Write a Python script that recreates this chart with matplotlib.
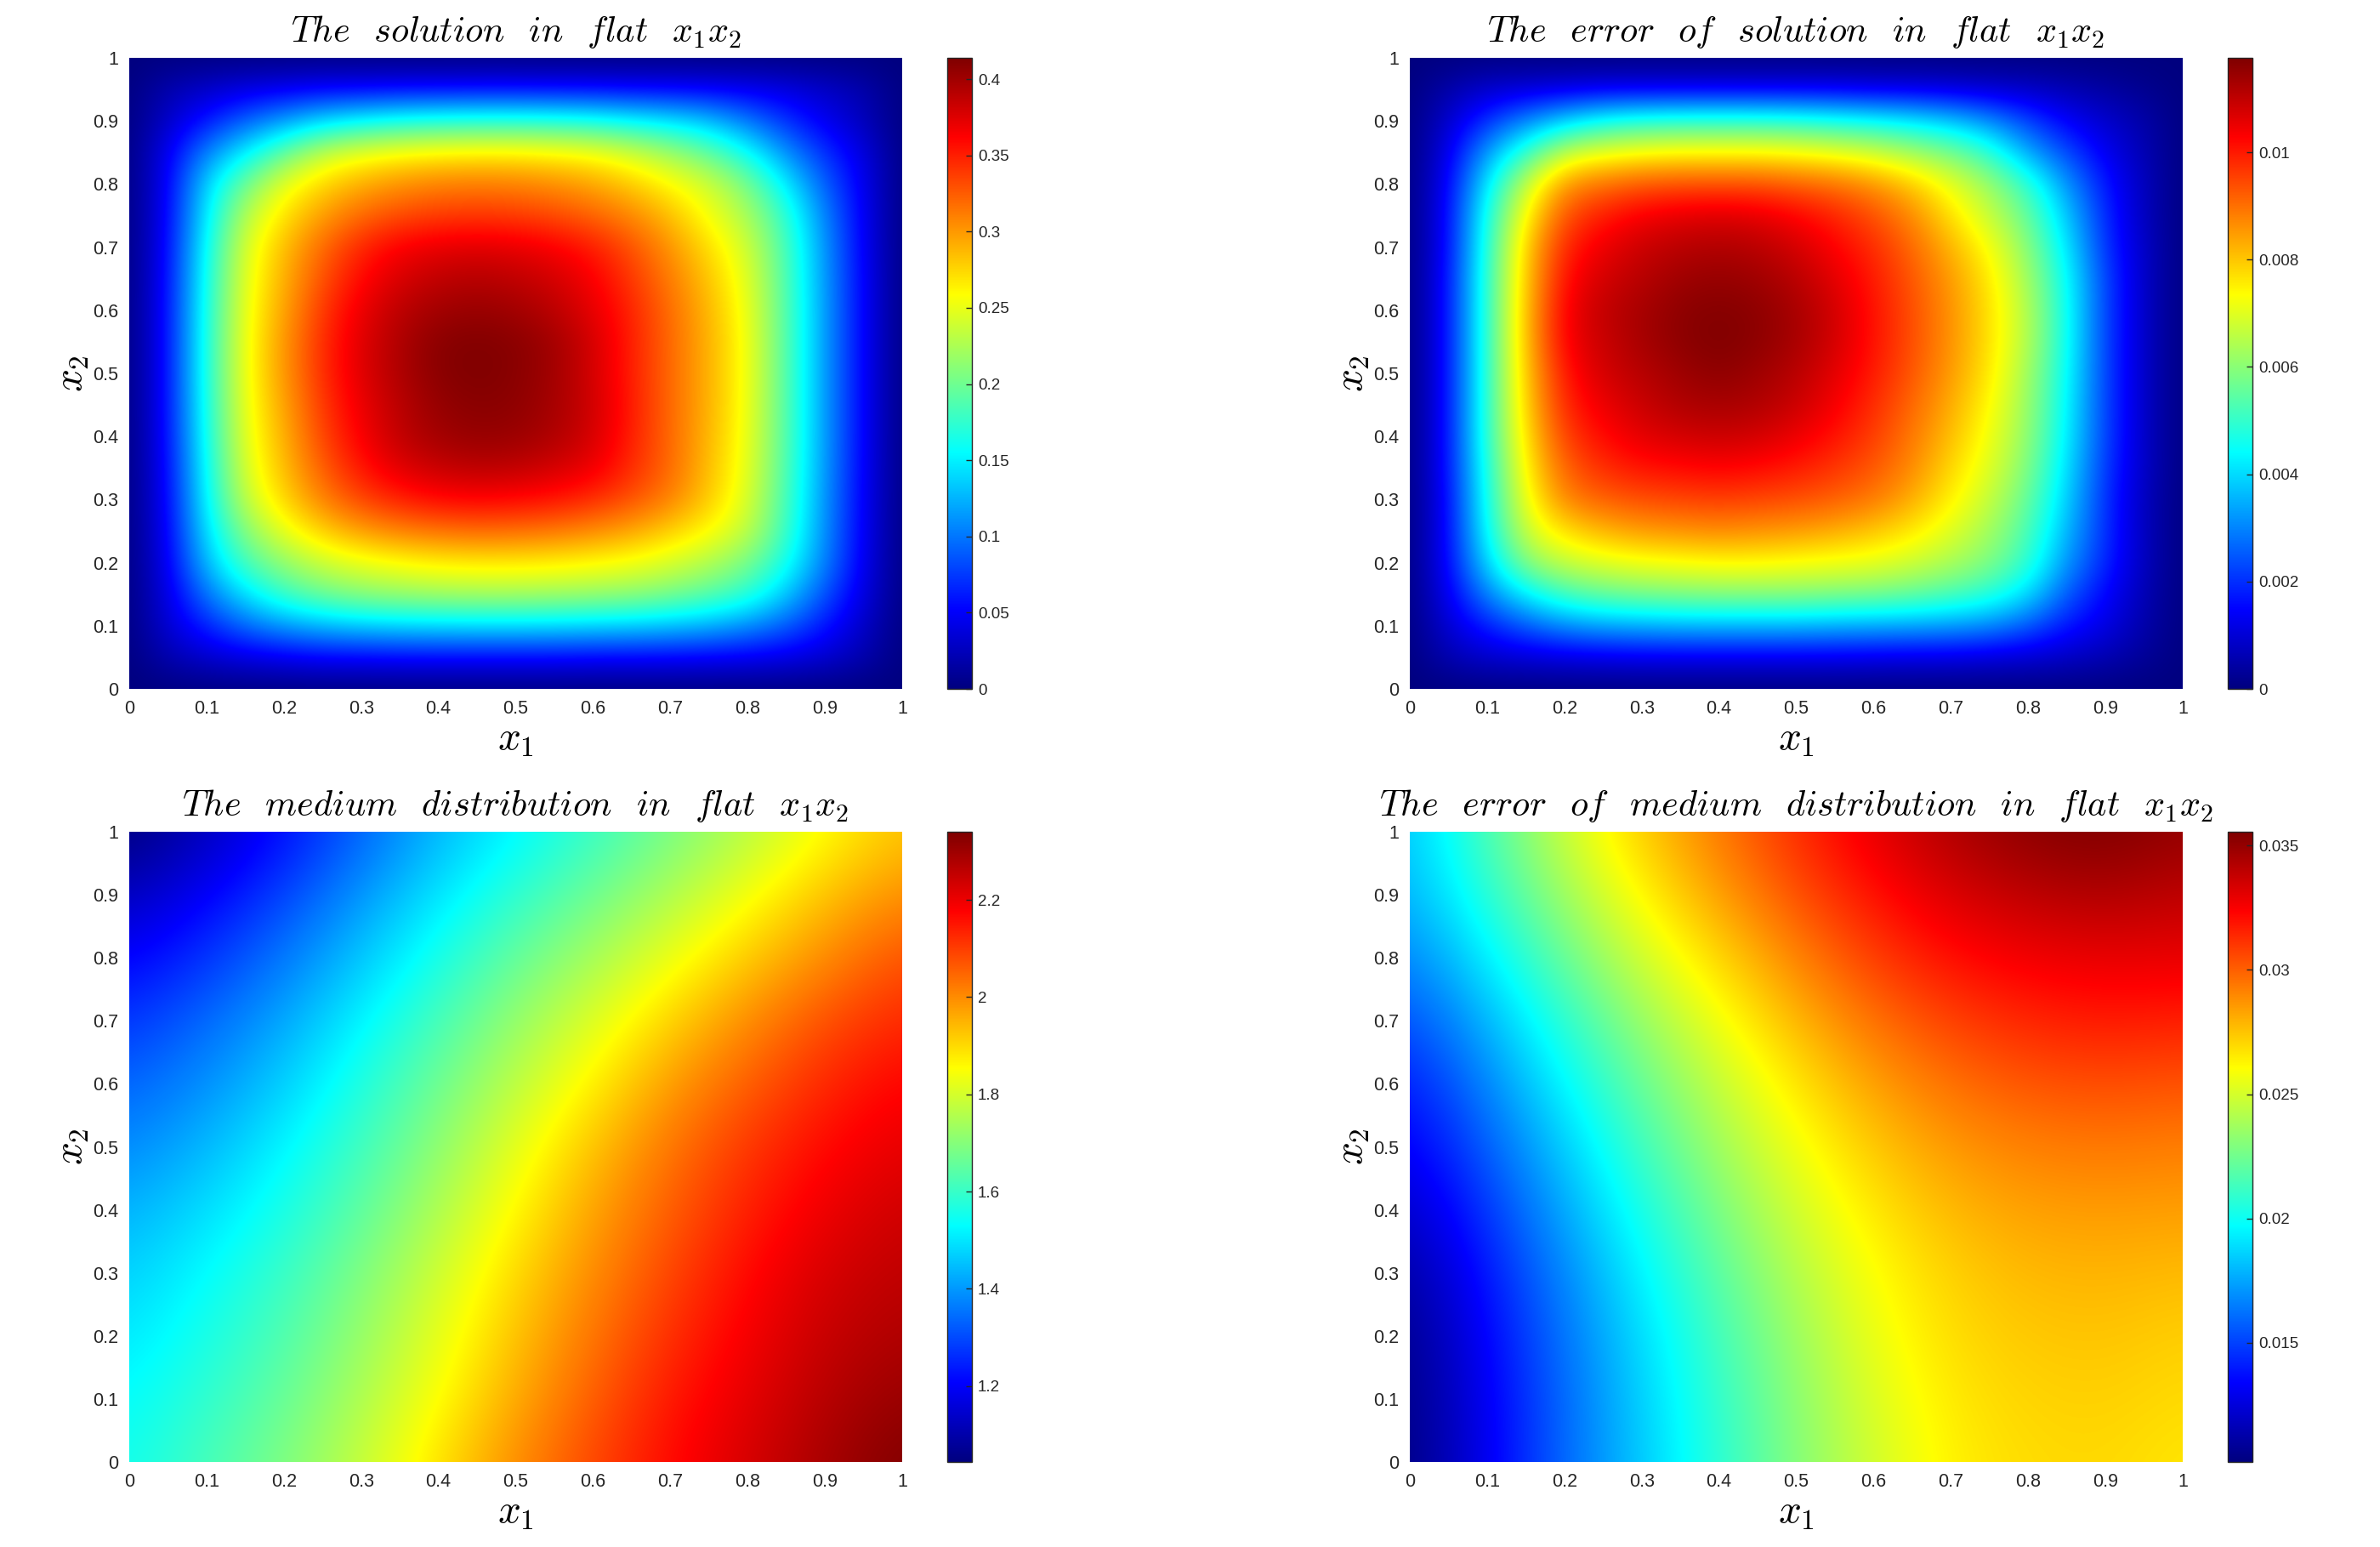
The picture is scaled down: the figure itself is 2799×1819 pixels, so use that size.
import numpy as np
from matplotlib import pyplot as plt
from matplotlib.colors import LinearSegmentedColormap

plt.rcParams['font.family'] = ['Liberation Sans', 'DejaVu Sans']
plt.rcParams['mathtext.fontset'] = 'cm'

W = 2799
H = 1819

# matlab style jet, reaches pure cyan and pure yellow
matlab_jet = LinearSegmentedColormap.from_list('matlab_jet', [
    (0, (0, 0, 0.5)), (0.125, (0, 0, 1)), (0.375, (0, 1, 1)),
    (0.625, (1, 1, 0)), (0.875, (1, 0, 0)), (1, (0.5, 0, 0))], N=512)

# tick labels
axis_ticks = [0, 0.1, 0.2, 0.3, 0.4, 0.5, 0.6, 0.7, 0.8, 0.9, 1]
axis_labels = ['0', '0.1', '0.2', '0.3', '0.4', '0.5', '0.6', '0.7', '0.8', '0.9', '1']

# solution, rows go from x2=0 to x2=1, step 0.05
solution = [
    [0] * 21,
    [0, .02, .032, .04, .045, .05, .05, .052, .052, .052, .052, .052, .05, .05, .05, .048, .046, .042, .034, .02, 0],
    [0, .035, .065, .095, .115, .128, .136, .14, .142, .143, .143, .142, .14, .137, .132, .125, .11, .09, .06, .03, 0],
    [0, .04, .10, .145, .18, .20, .212, .218, .222, .224, .224, .222, .218, .214, .205, .192, .175, .135, .085, .04, 0],
    [0, .045, .13, .185, .215, .238, .25, .258, .264, .266, .266, .264, .26, .254, .243, .228, .205, .165, .105, .045, 0],
    [0, .048, .145, .21, .25, .278, .298, .31, .316, .32, .318, .314, .306, .295, .278, .26, .235, .18, .11, .047, 0],
    [0, .05, .155, .235, .275, .31, .335, .35, .36, .362, .36, .355, .345, .33, .31, .28, .245, .185, .112, .048, 0],
    [0, .052, .16, .245, .285, .325, .355, .375, .385, .39, .388, .38, .37, .345, .32, .285, .25, .188, .114, .049, 0],
    [0, .054, .165, .25, .29, .335, .365, .388, .40, .405, .403, .395, .38, .35, .32, .288, .252, .19, .115, .05, 0],
    [0, .055, .168, .253, .295, .34, .37, .39, .405, .41, .408, .398, .382, .352, .32, .29, .254, .19, .115, .05, 0],
    [0, .055, .17, .255, .30, .345, .375, .395, .41, .414, .41, .40, .38, .35, .32, .29, .255, .19, .115, .05, 0],
    [0, .055, .17, .255, .30, .345, .375, .395, .41, .413, .41, .40, .38, .35, .32, .29, .255, .19, .115, .05, 0],
    [0, .055, .168, .253, .295, .34, .37, .39, .40, .404, .40, .39, .372, .348, .318, .288, .252, .19, .115, .05, 0],
    [0, .054, .165, .25, .29, .33, .36, .378, .388, .392, .388, .38, .365, .34, .312, .282, .248, .188, .114, .05, 0],
    [0, .052, .16, .245, .285, .32, .348, .365, .372, .375, .372, .365, .352, .33, .302, .272, .24, .185, .112, .048, 0],
    [0, .05, .15, .23, .27, .298, .32, .332, .338, .34, .338, .332, .322, .307, .285, .255, .225, .175, .105, .047, 0],
    [0, .048, .14, .20, .25, .275, .292, .303, .31, .312, .31, .305, .295, .28, .26, .24, .205, .15, .09, .045, 0],
    [0, .045, .105, .15, .195, .235, .25, .258, .262, .264, .264, .26, .255, .24, .22, .195, .16, .11, .07, .04, 0],
    [0, .03, .06, .09, .115, .14, .155, .165, .17, .172, .172, .17, .165, .155, .145, .13, .10, .07, .045, .025, 0],
    [0, .02, .03, .04, .045, .05, .05, .052, .052, .053, .053, .052, .052, .05, .05, .048, .045, .04, .03, .02, 0],
    [0] * 21,
]

# error of solution, in units of 1e-3
solution_error = [
    [0] * 21,
    [0, .6, .9, 1.0, 1.1, 1.15, 1.2, 1.2, 1.2, 1.2, 1.2, 1.2, 1.15, 1.1, 1.1, 1.0, .95, .8, .6, .3, 0],
    [0, 1.0, 1.8, 2.5, 3.1, 3.4, 3.5, 3.6, 3.6, 3.6, 3.6, 3.5, 3.45, 3.4, 3.3, 3.1, 2.5, 1.7, 1.2, .5, 0],
    [0, 1.3, 3.0, 4.3, 5.2, 5.6, 5.8, 5.9, 6.0, 6.0, 6.0, 5.9, 5.8, 5.6, 5.3, 4.9, 4.1, 2.5, 1.5, .6, 0],
    [0, 1.5, 4.0, 6.0, 6.7, 7.0, 7.2, 7.3, 7.4, 7.4, 7.3, 7.2, 7.1, 6.8, 6.4, 5.9, 5.0, 3.2, 1.9, .7, 0],
    [0, 1.5, 4.5, 6.8, 7.7, 8.2, 8.5, 8.6, 8.7, 8.6, 8.5, 8.3, 8.0, 7.6, 7.0, 6.3, 5.3, 3.6, 2.0, .7, 0],
    [0, 1.5, 4.7, 7.2, 8.8, 9.2, 9.4, 9.5, 9.6, 9.5, 9.4, 9.2, 8.9, 8.3, 7.5, 6.7, 5.6, 3.9, 2.0, .7, 0],
    [0, 1.6, 4.8, 7.5, 9.2, 9.8, 10.1, 10.2, 10.3, 10.2, 10.0, 9.7, 9.3, 8.7, 7.8, 7.0, 5.9, 4.1, 2.1, .8, 0],
    [0, 1.6, 5.0, 7.7, 9.6, 10.2, 10.6, 10.8, 10.9, 10.8, 10.5, 10.1, 9.6, 8.9, 8.1, 7.2, 6.1, 4.3, 2.2, .8, 0],
    [0, 1.6, 5.0, 7.9, 9.9, 10.5, 10.9, 11.2, 11.3, 11.2, 10.9, 10.4, 9.8, 9.1, 8.3, 7.4, 6.2, 4.4, 2.2, .8, 0],
    [0, 1.6, 5.0, 8.0, 10.1, 10.8, 11.1, 11.4, 11.6, 11.4, 11.1, 10.6, 10.0, 9.3, 8.5, 7.6, 6.3, 4.5, 2.2, .8, 0],
    [0, 1.6, 5.0, 8.1, 10.4, 10.9, 11.3, 11.6, 11.75, 11.6, 11.3, 10.8, 10.1, 9.4, 8.6, 7.7, 6.5, 4.6, 2.2, .8, 0],
    [0, 1.6, 5.0, 8.1, 10.4, 11.0, 11.3, 11.6, 11.7, 11.6, 11.3, 10.8, 10.1, 9.4, 8.6, 7.7, 6.5, 4.6, 2.2, .8, 0],
    [0, 1.6, 5.0, 8.0, 10.2, 10.8, 11.1, 11.4, 11.5, 11.4, 11.1, 10.6, 10.0, 9.3, 8.5, 7.6, 6.3, 4.5, 2.2, .8, 0],
    [0, 1.5, 4.9, 7.9, 9.9, 10.5, 10.9, 11.1, 11.2, 11.1, 10.8, 10.3, 9.8, 9.1, 8.2, 7.3, 6.0, 4.2, 2.0, .8, 0],
    [0, 1.5, 4.7, 7.4, 9.4, 10.0, 10.4, 10.6, 10.7, 10.6, 10.3, 9.9, 9.4, 8.7, 7.7, 6.7, 5.6, 3.8, 1.9, .7, 0],
    [0, 1.4, 4.2, 6.7, 8.6, 9.0, 9.3, 9.4, 9.4, 9.4, 9.2, 9.0, 8.6, 8.0, 7.1, 6.2, 5.0, 3.2, 1.7, .7, 0],
    [0, 1.2, 3.3, 5.0, 6.7, 7.1, 7.3, 7.4, 7.4, 7.4, 7.3, 7.1, 6.8, 6.3, 5.8, 5.0, 3.4, 2.3, 1.3, .6, 0],
    [0, .9, 2.0, 3.0, 3.9, 4.6, 4.9, 5.0, 5.0, 5.0, 4.9, 4.7, 4.5, 4.2, 3.8, 3.1, 2.2, 1.4, .9, .5, 0],
    [0, .5, .9, 1.0, 1.1, 1.2, 1.2, 1.2, 1.2, 1.2, 1.2, 1.2, 1.1, 1.1, 1.0, .9, .8, .6, .4, .2, 0],
    [0] * 21,
]

# medium, rows from x2=0 to x2=1, step 0.1
medium = [
    [1.55, 1.62, 1.69, 1.78, 1.89, 2.00, 2.09, 2.17, 2.23, 2.29, 2.34],
    [1.53, 1.59, 1.66, 1.75, 1.85, 1.96, 2.06, 2.15, 2.21, 2.27, 2.31],
    [1.50, 1.56, 1.63, 1.72, 1.82, 1.93, 2.03, 2.12, 2.19, 2.25, 2.28],
    [1.47, 1.53, 1.60, 1.69, 1.79, 1.90, 2.00, 2.09, 2.17, 2.23, 2.26],
    [1.43, 1.49, 1.56, 1.65, 1.75, 1.86, 1.97, 2.06, 2.14, 2.20, 2.24],
    [1.38, 1.44, 1.52, 1.61, 1.71, 1.82, 1.93, 2.03, 2.11, 2.17, 2.21],
    [1.33, 1.39, 1.47, 1.57, 1.67, 1.77, 1.87, 1.98, 2.06, 2.13, 2.18],
    [1.27, 1.34, 1.42, 1.52, 1.62, 1.72, 1.81, 1.91, 2.00, 2.08, 2.13],
    [1.20, 1.27, 1.36, 1.46, 1.56, 1.66, 1.74, 1.83, 1.92, 2.00, 2.08],
    [1.12, 1.20, 1.29, 1.40, 1.50, 1.59, 1.67, 1.75, 1.84, 1.93, 2.00],
    [1.04, 1.12, 1.22, 1.33, 1.44, 1.52, 1.60, 1.68, 1.76, 1.85, 1.93],
]

# error of medium, in units of 1e-3
medium_error = [
    [10.2, 13.0, 16.0, 18.4, 20.8, 23.0, 24.9, 26.4, 26.9, 27.0, 26.6],
    [10.3, 13.1, 16.0, 18.6, 21.0, 23.2, 25.2, 26.6, 27.1, 27.2, 26.9],
    [10.5, 13.4, 16.3, 18.9, 21.4, 23.6, 25.6, 26.9, 27.4, 27.5, 27.2],
    [11.0, 13.9, 16.8, 19.5, 22.0, 24.2, 26.0, 27.2, 27.8, 27.9, 27.7],
    [11.9, 14.7, 17.6, 20.3, 22.8, 24.9, 26.6, 27.8, 28.4, 28.5, 28.4],
    [13.0, 15.7, 18.5, 21.3, 23.7, 25.7, 27.4, 28.6, 29.2, 29.4, 29.2],
    [13.9, 16.7, 19.6, 22.3, 24.6, 26.6, 28.4, 29.6, 30.3, 30.5, 30.3],
    [15.2, 17.9, 20.8, 23.5, 25.7, 27.8, 29.6, 30.8, 31.5, 31.8, 31.6],
    [16.6, 19.3, 22.3, 24.9, 27.0, 29.1, 30.9, 32.1, 32.7, 32.9, 32.9],
    [17.7, 20.7, 23.7, 26.2, 28.4, 30.4, 32.0, 33.3, 34.0, 34.4, 33.9],
    [18.2, 21.6, 24.8, 27.3, 29.4, 31.3, 33.0, 34.4, 35.3, 35.6, 35.0],
]

titles = [
    r'$The\enspace\;solution\enspace\;in\enspace\;flat\enspace\;x_1x_2$',
    r'$The\enspace\;error\enspace\;of\enspace\;solution\enspace\;in\enspace\;flat\enspace\;x_1x_2$',
    r'$The\enspace\;medium\enspace\;distribution\enspace\;in\enspace\;flat\enspace\;x_1x_2$',
    r'$The\enspace\;error\enspace\;of\enspace\;medium\enspace\;distribution\enspace\;in\enspace\;flat\enspace\;x_1x_2$',
]

solution_cticks = [0, 0.05, 0.1, 0.15, 0.2, 0.25, 0.3, 0.35, 0.4]
solution_clabels = ['0', '0.05', '0.1', '0.15', '0.2', '0.25', '0.3', '0.35', '0.4']
solution_error_cticks = [0, 0.002, 0.004, 0.006, 0.008, 0.01]
solution_error_clabels = ['0', '0.002', '0.004', '0.006', '0.008', '0.01']
medium_cticks = [1.2, 1.4, 1.6, 1.8, 2, 2.2]
medium_clabels = ['1.2', '1.4', '1.6', '1.8', '2', '2.2']
medium_error_cticks = [0.015, 0.02, 0.025, 0.03, 0.035]
medium_error_clabels = ['0.015', '0.02', '0.025', '0.03', '0.035']


def px_rect(left, right, top, bottom):
    return [left / W, 1 - bottom / H, (right - left) / W, (bottom - top) / H]


def draw_panel(fig, data, title, vmin, vmax, cticks, clabels, left, top, bottom):
    ax = fig.add_axes(px_rect(left, left + 909, top, bottom))
    # the grid nodes sit on the cell centres, so the first and last node land on 0 and 1
    half = 0.5 / (data.shape[0] - 1)
    im = ax.imshow(data, origin='lower', extent=[-half, 1 + half, -half, 1 + half], aspect='auto',
                   cmap=matlab_jet, vmin=vmin, vmax=vmax, interpolation='bicubic')
    ax.set_xlim(0, 1)
    ax.set_ylim(0, 1)
    ax.set_xticks(axis_ticks, axis_labels)
    ax.set_yticks(axis_ticks, axis_labels)
    ax.tick_params(direction='in', length=0, labelsize=15.5, pad=9, colors='#262626')
    for s in ax.spines.values():
        s.set_visible(False)
    ax.set_xlabel(r'$x_1$', fontsize=34, labelpad=3)
    ax.set_ylabel(r'$x_2$', fontsize=34, labelpad=2)
    ax.set_title(title, fontsize=30.5, pad=14)

    cax = fig.add_axes(px_rect(left + 962, left + 991, top, bottom))
    cb = fig.colorbar(im, cax=cax)
    cb.set_ticks(cticks, labels=clabels)
    cb.ax.tick_params(direction='in', length=5, width=1, labelsize=13.5, pad=5, colors='#262626')
    cb.outline.set_linewidth(1)
    cb.outline.set_edgecolor('#262626')


fig = plt.figure(figsize=(W / 100, H / 100), dpi=100)

draw_panel(fig, np.array(solution), titles[0], 0, 0.414,
           solution_cticks, solution_clabels, 152, 68, 810)
draw_panel(fig, np.array(solution_error) * 1e-3, titles[1], 0, 0.01176,
           solution_error_cticks, solution_error_clabels, 1658, 68, 810)
draw_panel(fig, np.array(medium), titles[2], 1.044, 2.34,
           medium_cticks, medium_clabels, 152, 978, 1719)
draw_panel(fig, np.array(medium_error) * 1e-3, titles[3], 0.0102, 0.03556,
           medium_error_cticks, medium_error_clabels, 1658, 978, 1719)

plt.savefig("out.png", dpi=100)
